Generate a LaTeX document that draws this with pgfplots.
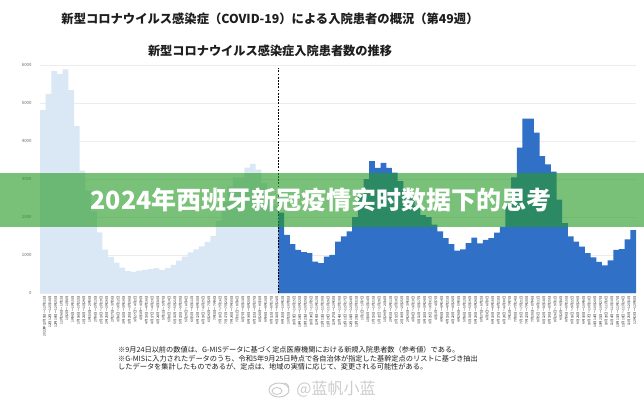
\documentclass[border=0pt]{standalone}
\usepackage{pgfplots}
\pgfplotsset{compat=1.18}
\usepackage{fontspec}
\newfontfamily\jp{Noto Sans CJK JP}
\newfontfamily\zh{Noto Sans CJK SC}
\definecolor{lightbar}{RGB}{218,232,245}
\definecolor{darkbar}{RGB}{49,112,199}
\definecolor{bannergreen}{RGB}{40,155,40}
\definecolor{txt}{RGB}{30,30,30}
\begin{document}
\begin{tikzpicture}
\path[use as bounding box] (0,0) rectangle (644pt,400pt);
\fill[white] (0,0) rectangle (644pt,400pt);
\node[font=\jp\bfseries\fontsize{12.3}{14}\selectfont, text=txt] at (270pt,381pt) {新型コロナウイルス感染症（COVID-19）による入院患者の概況（第49週）};
\node[font=\jp\bfseries\fontsize{12.2}{14}\selectfont, text=txt] at (270pt,349pt) {新型コロナウイルス感染症入院患者数の推移};
\begin{axis}[
  at={(40pt,107pt)}, anchor=south west,
  width=596pt, height=227.7pt, scale only axis,
  xmin=0.5, xmax=105.5, ymin=0, ymax=6000,
  axis line style={draw=none},
  major tick length=0pt,
  ytick={0,1000,2000,3000,4000,5000,6000},
  yticklabels={0,1000,2000,3000,4000,5000,6000},
  ymajorgrids, grid style={gray!15, line width=0.5pt},
  y tick label style={font=\jp\fontsize{4.3}{5}\selectfont, text=gray!80!black, xshift=-5pt},
  xtick={1,...,105},
  xticklabels={2022年12月5日～12月11日,12月12日～12月18日,12月19日～12月25日,12月26日～1月1日,1月2日～1月8日,1月9日～1月15日,1月16日～1月22日,1月23日～1月29日,1月30日～2月5日,2月6日～2月12日,2月13日～2月19日,2月20日～2月26日,2月27日～3月5日,3月6日～3月12日,3月13日～3月19日,3月20日～3月26日,3月27日～4月2日,4月3日～4月9日,4月10日～4月16日,4月17日～4月23日,4月24日～4月30日,5月1日～5月7日,5月8日～5月14日,5月15日～5月21日,5月22日～5月28日,5月29日～6月4日,6月5日～6月11日,6月12日～6月18日,6月19日～6月25日,6月26日～7月2日,7月3日～7月9日,7月10日～7月16日,7月17日～7月23日,7月24日～7月30日,7月31日～8月6日,8月7日～8月13日,8月14日～8月20日,8月21日～8月27日,8月28日～9月3日,9月4日～9月10日,9月11日～9月17日,9月18日～9月24日,9月25日～10月1日,10月2日～10月8日,10月9日～10月15日,10月16日～10月22日,10月23日～10月29日,10月30日～11月5日,11月6日～11月12日,11月13日～11月19日,11月20日～11月26日,11月27日～12月3日,12月4日～12月10日,12月11日～12月17日,12月18日～12月24日,12月25日～12月31日,1月1日～1月7日,1月8日～1月14日,1月15日～1月21日,1月22日～1月28日,1月29日～2月4日,2月5日～2月11日,2月12日～2月18日,2月19日～2月25日,2月26日～3月3日,3月4日～3月10日,3月11日～3月17日,3月18日～3月24日,3月25日～3月31日,4月1日～4月7日,4月8日～4月14日,4月15日～4月21日,4月22日～4月28日,4月29日～5月5日,5月6日～5月12日,5月13日～5月19日,5月20日～5月26日,5月27日～6月2日,6月3日～6月9日,6月10日～6月16日,6月17日～6月23日,6月24日～6月30日,7月1日～7月7日,7月8日～7月14日,7月15日～7月21日,7月22日～7月28日,7月29日～8月4日,8月5日～8月11日,8月12日～8月18日,8月19日～8月25日,8月26日～9月1日,9月2日～9月8日,9月9日～9月15日,9月16日～9月22日,9月23日～9月29日,9月30日～10月6日,10月7日～10月13日,10月14日～10月20日,10月21日～10月27日,10月28日～11月3日,11月4日～11月10日,11月11日～11月17日,11月18日～11月24日,11月25日～12月1日,12月2日～12月8日},
  x tick label style={font=\jp\fontsize{3.3}{3.5}\selectfont, text=txt, rotate=90, anchor=east, yshift=-1.5pt},
  clip=false,
]
\addplot[ybar, bar width=1, bar shift=0pt, fill=lightbar, draw=none] coordinates {
(1,4824) (2,5247) (3,5856) (4,5776) (5,5892) (6,5345) (7,4400) (8,3228) (9,2700) (10,2150)
(11,1600) (12,1140) (13,955) (14,800) (15,670) (16,575) (17,555) (18,590) (19,608) (20,627)
(21,653) (22,608) (23,653) (24,741) (25,850) (26,960) (27,1070) (28,1150) (29,1230) (30,1350)
(31,1500) (32,1900) (33,2400) (34,2800) (35,3050) (36,3050) (37,3307) (38,3405) (39,3254) (40,2900)
(41,2600) (42,2300)
};
\addplot[ybar, bar width=1, bar shift=0pt, fill=darkbar, draw=none] coordinates {
(43,2117) (44,1535) (45,1290) (46,1138) (47,1080) (48,1050) (49,828) (50,785)
(51,960) (52,1005) (53,1357) (54,1490) (55,1622) (56,2000) (57,2600) (58,3000) (59,3474) (60,3299)
(61,3432) (62,3299) (63,3170) (64,2950) (65,2700) (66,2500) (67,2300) (68,2050) (69,2000) (70,1800)
(71,1622) (72,1447) (73,1288) (74,1120) (75,1150) (76,1315) (77,1460) (78,1310) (79,1400) (80,1447)
(81,1590) (82,1740) (83,2300) (84,3050) (85,3829) (86,4596) (87,4596) (88,4226) (89,3607) (90,3387)
(91,3200) (92,2461) (93,1844) (94,1490) (95,1357) (96,1225) (97,1050) (98,940) (99,820) (100,730)
(101,860) (102,1138) (103,1156) (104,1410) (105,1660)
};
\addplot[black, line width=0.5pt, dash pattern=on 1.8pt off 1.4pt] coordinates {(42.5,0) (42.5,5930)};
\end{axis}
\fill[bannergreen, opacity=0.62] (0,173pt) rectangle (644pt,227pt);
\node[font=\zh\bfseries\fontsize{25}{28}\selectfont, text=white] at (321pt,200pt) {2024年西班牙新冠疫情实时数据下的思考};
\begin{scope}[font=\jp\fontsize{7.2}{8}\selectfont, text=txt]
\node[anchor=west, inner sep=0pt] at (118pt,50pt) {※9月24日以前の数値は、G-MISデータに基づく定点医療機関における新規入院患者数（参考値）である。};
\node[anchor=west, inner sep=0pt] at (118pt,41.5pt) {※G-MISに入力されたデータのうち、令和5年9月25日時点で各自治体が指定した基幹定点のリストに基づき抽出};
\node[anchor=west, inner sep=0pt] at (118pt,33pt) {したデータを集計したものであるが、定点は、地域の実情に応じて、変更される可能性がある。};
\end{scope}
\draw[gray!45, line width=0.9pt] (279pt,10pt) ellipse (10pt and 7pt);
\draw[gray!45, line width=0.8pt] (277pt,9pt) ellipse (5pt and 3.5pt);
\draw[gray!45, line width=0.8pt] (284pt,17pt) arc (90:10:5pt);
\node[font=\zh\fontsize{16}{18}\selectfont, text=gray!40] at (336pt,11pt) {@蓝帆小蓝};
\end{tikzpicture}
\end{document}
